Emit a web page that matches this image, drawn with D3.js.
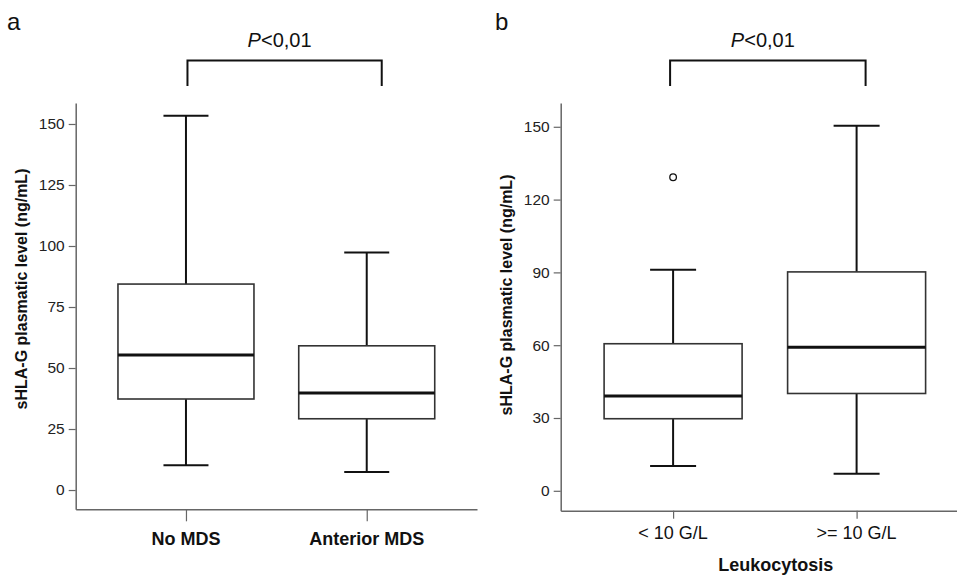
<!DOCTYPE html>
<html>
<head>
<meta charset="utf-8">
<script src="https://cdn.jsdelivr.net/npm/d3@7"></script>
<style>
  body { margin: 0; background: #fff; }
  text { font-family: "Liberation Sans", Arial, sans-serif; }
</style>
</head>
<body>
<div id="chart"></div>
<script>
// panel a : MDS history
var groupsA = ["No MDS", "Anterior MDS"];
var lowA = [10.2, 7.4];
var q1A = [37.3, 29.2];
var medA = [55.3, 39.8];
var q3A = [84.4, 59.1];
var highA = [153.4, 97.3];
var outA = [[], []];
var ticksA = [0, 25, 50, 75, 100, 125, 150];

// panel b : leukocytosis
var groupsB = ["< 10 G/L", ">= 10 G/L"];
var lowB = [10.2, 7.0];
var q1B = [29.7, 40.1];
var medB = [39.1, 59.2];
var q3B = [60.6, 90.2];
var highB = [91.1, 150.4];
var outB = [[129.2], []];
var ticksB = [0, 30, 60, 90, 120, 150];

var yTitle = "sHLA-G plasmatic level (ng/mL)";
var pLabel = "<0,01";

var svg = d3.select("#chart")
    .append("svg")
    .attr("width", 957)
    .attr("height", 576);

function drawPanel(o) {
    var g = svg.append("g");

    var x = d3.scalePoint()
        .domain(o.groups)
        .range(o.xRange)
        .padding(o.pad);

    var y = d3.scaleLinear()
        .domain(o.yDomain)
        .range(o.yRange);

    // y axis
    var yAxis = g.append("g")
        .attr("transform", "translate(" + o.xRange[0] + ",0)")
        .call(d3.axisLeft(y).tickValues(o.ticks).tickSize(7).tickSizeOuter(0).tickPadding(4));
    yAxis.select(".domain").attr("stroke", "#666").attr("stroke-width", 1.5);
    yAxis.selectAll(".tick line").attr("stroke", "#666").attr("stroke-width", 1.2);
    yAxis.selectAll(".tick text")
        .attr("fill", "#222")
        .style("font-size", "15.5px")
        .style("font-family", "'Liberation Sans', Arial, sans-serif");

    // x axis
    var xAxis = g.append("g")
        .attr("transform", "translate(0," + o.yRange[0] + ")")
        .call(d3.axisBottom(x).tickSize(o.xTick).tickSizeOuter(0).tickFormat(""));
    xAxis.select(".domain").attr("stroke", "#666").attr("stroke-width", 1.5);
    xAxis.selectAll(".tick line").attr("stroke", "#666").attr("stroke-width", 1.2);

    g.selectAll(".xlab")
        .data(o.groups)
        .enter()
        .append("text")
        .attr("class", "xlab")
        .attr("x", function (d) { return x(d); })
        .attr("y", o.xLabY)
        .attr("text-anchor", "middle")
        .style("font-size", "18px")
        .style("font-weight", o.xBold ? "bold" : "normal")
        .attr("fill", "#111")
        .text(function (d) { return d; });

    // y title
    g.append("text")
        .attr("transform", "translate(" + o.titleX + "," + o.titleY + ") rotate(-90)")
        .attr("text-anchor", "middle")
        .style("font-size", "16px")
        .style("font-weight", "bold")
        .attr("fill", "#111")
        .text(yTitle);

    // boxes
    var boxW = o.boxW, capW = o.capW;
    var b = g.selectAll(".box")
        .data(o.groups)
        .enter()
        .append("g")
        .attr("class", "box");

    // whiskers
    b.append("line")
        .attr("x1", function (d) { return x(d); })
        .attr("x2", function (d) { return x(d); })
        .attr("y1", function (d, i) { return y(o.high[i]); })
        .attr("y2", function (d, i) { return y(o.q3[i]); })
        .attr("stroke", "#111").attr("stroke-width", 2);
    b.append("line")
        .attr("x1", function (d) { return x(d); })
        .attr("x2", function (d) { return x(d); })
        .attr("y1", function (d, i) { return y(o.q1[i]); })
        .attr("y2", function (d, i) { return y(o.low[i]); })
        .attr("stroke", "#111").attr("stroke-width", 2);
    // caps
    [o.high, o.low].forEach(function (arr) {
        b.append("line")
            .attr("x1", function (d) { return x(d) - capW / 2; })
            .attr("x2", function (d) { return x(d) + capW / 2; })
            .attr("y1", function (d, i) { return y(arr[i]); })
            .attr("y2", function (d, i) { return y(arr[i]); })
            .attr("stroke", "#111").attr("stroke-width", 2);
    });
    // box
    b.append("rect")
        .attr("x", function (d) { return x(d) - boxW / 2; })
        .attr("width", boxW)
        .attr("y", function (d, i) { return y(o.q3[i]); })
        .attr("height", function (d, i) { return y(o.q1[i]) - y(o.q3[i]); })
        .attr("fill", "#fff")
        .attr("stroke", "#333")
        .attr("stroke-width", 1.6);
    // median
    b.append("line")
        .attr("x1", function (d) { return x(d) - boxW / 2; })
        .attr("x2", function (d) { return x(d) + boxW / 2; })
        .attr("y1", function (d, i) { return y(o.med[i]); })
        .attr("y2", function (d, i) { return y(o.med[i]); })
        .attr("stroke", "#111").attr("stroke-width", 3);

    // outliers
    b.selectAll(".out")
        .data(function (d, i) { return o.out[i].map(function (v) { return { g: d, v: v }; }); })
        .enter()
        .append("circle")
        .attr("cx", function (d) { return x(d.g); })
        .attr("cy", function (d) { return y(d.v); })
        .attr("r", 3.3)
        .attr("fill", "#fff")
        .attr("stroke", "#111")
        .attr("stroke-width", 1.3);

    // significance bracket
    var bx0 = x(o.groups[0]) + o.brk[0],
        bx1 = x(o.groups[1]) + o.brk[1];
    g.append("path")
        .attr("d", "M" + bx0 + ",86V60.5H" + bx1 + "V86")
        .attr("fill", "none")
        .attr("stroke", "#111")
        .attr("stroke-width", 2);
    var pt = g.append("text")
        .attr("x", (bx0 + bx1) / 2 - 5)
        .attr("y", 47)
        .attr("text-anchor", "middle")
        .style("font-size", "20px")
        .attr("fill", "#111");
    pt.append("tspan").style("font-style", "italic").text("P");
    pt.append("tspan").text(pLabel);

    // panel letter
    g.append("text")
        .attr("x", o.letterX)
        .attr("y", 30)
        .style("font-size", "24px")
        .attr("fill", "#111")
        .text(o.letter);

    return x;
}

drawPanel({
    groups: groupsA, low: lowA, q1: q1A, med: medA, q3: q3A, high: highA, out: outA,
    ticks: ticksA, xRange: [75.7, 477], pad: 0.61,
    yDomain: [-7.9, 158.6], yRange: [509.3, 103],
    xTick: 12, xLabY: 545, xBold: true,
    titleX: 27, titleY: 289,
    boxW: 136, capW: 45, brk: [1.5, 15],
    letter: "a", letterX: 7
});

var xb = drawPanel({
    groups: groupsB, low: lowB, q1: q1B, med: medB, q3: q3B, high: highB, out: outB,
    ticks: ticksB, xRange: [560.7, 969], pad: 0.6125,
    yDomain: [-8.2, 159.8], yRange: [510.7, 103],
    xTick: 8, xLabY: 539, xBold: false,
    titleX: 512, titleY: 295,
    boxW: 138, capW: 46, brk: [-3, 9],
    letter: "b", letterX: 495
});

// x title for panel b
svg.append("text")
    .attr("x", (xb(groupsB[0]) + xb(groupsB[1])) / 2 + 11)
    .attr("y", 571)
    .attr("text-anchor", "middle")
    .style("font-size", "18px")
    .style("font-weight", "bold")
    .attr("fill", "#111")
    .text("Leukocytosis");
</script>
</body>
</html>
